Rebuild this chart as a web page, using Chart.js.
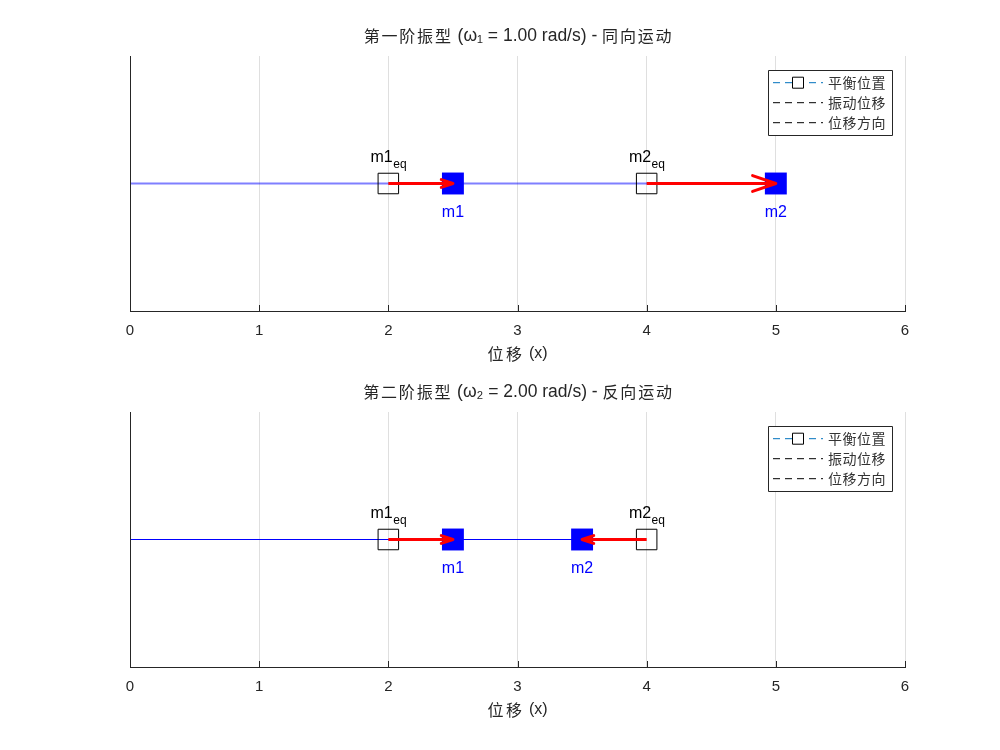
<!DOCTYPE html>
<html>
<head>
<meta charset="utf-8">
<script src="https://cdn.jsdelivr.net/npm/chart.js@4/dist/chart.umd.min.js"></script>
<style>
  body { margin: 0; background: #fff; }
  .wrap { position: relative; width: 1000px; height: 750px; }
  canvas { position: absolute; left: 0; }
</style>
</head>
<body>
<div class="wrap">
  <canvas id="chart-1" width="1000" height="375" style="top:0"></canvas>
  <canvas id="chart-2" width="1000" height="375" style="top:356px"></canvas>
</div>
<script>
// data
var xTicks = [0, 1, 2, 3, 4, 5, 6];
var massNames = ["m1", "m2"];
var eqPos = [2, 4];
var mode1Pos = [2.5, 5];
var mode2Pos = [2.5, 3.5];
var titles = [
  "第一阶振型 (ω\u2081 = 1.00 rad/s) - 同向运动",
  "第二阶振型 (ω\u2082 = 2.00 rad/s) - 反向运动",
];
var legendLabels = ["平衡位置", "振动位移", "位移方向"];
var xLabel = "位移 (x)";

var latinFont = "'Liberation Sans', Arial, 'Noto Sans CJK SC', sans-serif";
var cjkFont = "'Noto Sans CJK SC', sans-serif";

// draws text mixing latin and CJK runs, CJK chars get extra spacing
function mixedWidth(ctx, text, size, cjkSize, gap) {
  var w = 0;
  for (var i = 0; i < text.length; i++) {
    var ch = text[i];
    if (/[\u4e00-\u9fff]/.test(ch)) {
      ctx.font = cjkSize + "px " + cjkFont;
      w += ctx.measureText(ch).width + gap;
    } else {
      ctx.font = size + "px " + latinFont;
      w += ctx.measureText(ch).width;
    }
  }
  return w;
}
function drawMixed(ctx, text, x, y, size, cjkSize, gap, align) {
  var w = mixedWidth(ctx, text, size, cjkSize, gap);
  var cx = align === "center" ? x - w / 2 : x;
  ctx.textAlign = "left";
  for (var i = 0; i < text.length; i++) {
    var ch = text[i];
    if (/[\u4e00-\u9fff]/.test(ch)) {
      ctx.font = cjkSize + "px " + cjkFont;
      ctx.fillText(ch, cx, y);
      cx += ctx.measureText(ch).width + gap;
    } else {
      ctx.font = size + "px " + latinFont;
      ctx.fillText(ch, cx, y);
      cx += ctx.measureText(ch).width;
    }
  }
}

var decorPlugin = {
  id: "decor",
  afterDatasetsDraw: function (chart) {
    var ctx = chart.ctx;
    var xs = chart.scales.x;
    var ys = chart.scales.y;
    var area = chart.chartArea;
    var o = chart.options.plugins.decor;
    var y0 = ys.getPixelForValue(0);
    ctx.save();

    // arrow heads
    ctx.strokeStyle = "#ff0000";
    ctx.lineWidth = 3;
    ctx.lineCap = "round";
    ctx.lineJoin = "round";
    for (var i = 0; i < o.eq.length; i++) {
      var a = xs.getPixelForValue(o.eq[i]);
      var b = xs.getPixelForValue(o.pos[i]);
      var len = Math.abs(b - a);
      var dir = b > a ? 1 : -1;
      var hl = Math.max(11, len * 0.18);
      var hw = hl * 0.34;
      ctx.beginPath();
      ctx.moveTo(b - dir * hl, y0 - hw);
      ctx.lineTo(b, y0);
      ctx.lineTo(b - dir * hl, y0 + hw);
      ctx.stroke();
    }

    // mass labels
    ctx.textBaseline = "alphabetic";
    for (var j = 0; j < o.eq.length; j++) {
      var px = xs.getPixelForValue(o.eq[j]);
      ctx.textAlign = "left";
      ctx.font = "16px " + latinFont;
      var w1 = ctx.measureText(massNames[j]).width;
      ctx.font = "12px " + latinFont;
      var w2 = ctx.measureText("eq").width;
      var sx = px - (w1 + w2) / 2;
      ctx.fillStyle = "#000";
      ctx.font = "16px " + latinFont;
      ctx.fillText(massNames[j], sx, y0 - 22);
      ctx.font = "12px " + latinFont;
      ctx.fillText("eq", sx + w1 + 0.5, y0 - 15.5);

      var mx = xs.getPixelForValue(o.pos[j]);
      ctx.font = "16px " + latinFont;
      ctx.fillStyle = "#0000ff";
      ctx.textAlign = "center";
      ctx.fillText(massNames[j], mx, y0 + 33);
    }

    // inward tick marks + left axis
    ctx.strokeStyle = "#262626";
    ctx.lineWidth = 1;
    ctx.lineCap = "butt";
    ctx.beginPath();
    xTicks.forEach(function (t) {
      var tx = Math.round(xs.getPixelForValue(t)) + 0.5;
      ctx.moveTo(tx, area.bottom);
      ctx.lineTo(tx, area.bottom - 6);
    });
    ctx.moveTo(Math.round(area.left) + 0.5, area.top);
    ctx.lineTo(Math.round(area.left) + 0.5, area.bottom);
    ctx.stroke();

    // title and x label
    var midX = (area.left + area.right) / 2;
    ctx.fillStyle = "#262626";
    ctx.textBaseline = "middle";
    drawMixed(ctx, o.title, midX + 1, area.top - 20, 17.5, 16, 1.8, "center");
    drawMixed(ctx, xLabel, midX, area.bottom + 42.5, 16, 16, 2.5, "center");

    // legend
    var bx = area.right - 137, by = area.top + 14, bw = 124, bh = 65;
    ctx.fillStyle = "#fff";
    ctx.fillRect(bx, by, bw, bh);
    ctx.strokeStyle = "#262626";
    ctx.strokeRect(bx + 0.5, by + 0.5, bw, bh);
    legendLabels.forEach(function (lab, k) {
      var ly = by + 12.7 + k * 20;
      ctx.setLineDash([7, 5]);
      ctx.strokeStyle = k === 0 ? "#0072bd" : "#000";
      ctx.beginPath();
      ctx.moveTo(bx + 5, ly);
      ctx.lineTo(bx + 55, ly);
      ctx.stroke();
      ctx.setLineDash([]);
      if (k === 0) {
        ctx.strokeStyle = "#000";
        ctx.fillStyle = "#fff";
        ctx.fillRect(bx + 24, ly - 6, 12, 12);
        ctx.strokeRect(bx + 24.5, ly - 5.5, 11, 11);
      }
      ctx.fillStyle = "#333";
      drawMixed(ctx, lab, bx + 60, ly, 14, 14, 0.5, "left");
    });
    ctx.restore();
  },
};

function makeChart(id, pos, title, lineColor, lineWidth) {
  var ctx = document.getElementById(id).getContext("2d");
  var datasets = [];
  // arrows first: the first dataset is painted last (on top)
  for (var i = 0; i < eqPos.length; i++) {
    datasets.push({
      data: [{ x: eqPos[i], y: 0 }, { x: pos[i], y: 0 }],
      showLine: true,
      borderColor: "#ff0000",
      borderWidth: 3,
      pointRadius: 0,
    });
  }
  datasets.push({
    label: "masses",
    data: pos.map(function (p) { return { x: p, y: 0 }; }),
    pointStyle: "rect",
    pointRadius: 15.5,
    backgroundColor: "#0000ff",
    borderColor: "#0000ff",
    borderWidth: 0,
  });
  datasets.push({
    label: "eq",
    data: eqPos.map(function (p) { return { x: p, y: 0 }; }),
    pointStyle: "rect",
    pointRadius: 14.5,
    backgroundColor: "rgba(0,0,0,0)",
    borderColor: "#000",
    borderWidth: 1,
  });
  datasets.push({
    label: "line",
    data: [{ x: 0, y: 0 }].concat(pos.map(function (p) { return { x: p, y: 0 }; })),
    showLine: true,
    borderColor: lineColor,
    borderWidth: lineWidth,
    pointRadius: 0,
  });

  return new Chart(ctx, {
    type: "scatter",
    data: { datasets: datasets },
    options: {
      responsive: false,
      animation: false,
      layout: { padding: { left: 130, right: 95, top: 56, bottom: 24 } },
      plugins: {
        legend: { display: false },
        tooltip: { enabled: false },
        decor: { eq: eqPos, pos: pos, title: title },
      },
      scales: {
        x: {
          type: "linear",
          min: 0,
          max: 6,
          afterBuildTicks: function (axis) {
            axis.ticks = xTicks.map(function (v) { return { value: v }; });
          },
          afterFit: function (axis) {
            axis.height = 40;
          },
          ticks: { color: "#262626", font: { size: 15, family: latinFont }, padding: 11 },
          grid: { color: "#dfdfdf", drawTicks: false },
          border: { display: true, color: "#262626" },
        },
        y: { display: false, min: -1, max: 1 },
      },
    },
    plugins: [decorPlugin],
  });
}

makeChart("chart-1", mode1Pos, titles[0], "rgba(0,0,255,0.5)", 2);
makeChart("chart-2", mode2Pos, titles[1], "#0000ff", 1.2);
</script>
</body>
</html>
